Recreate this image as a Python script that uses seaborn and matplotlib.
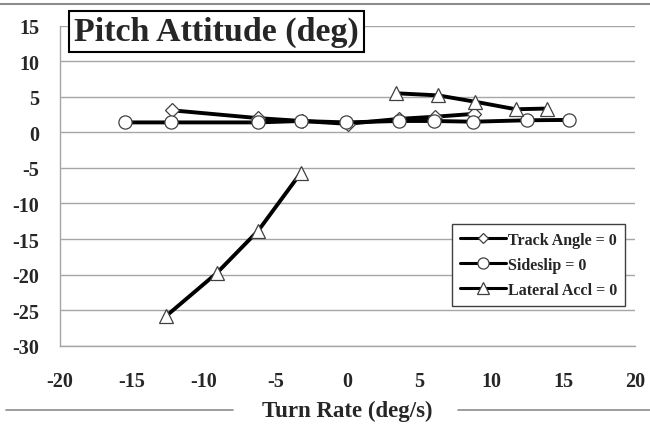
import numpy as np
import pandas as pd
import seaborn as sns
import matplotlib
matplotlib.use("Agg")
import matplotlib.pyplot as plt
from matplotlib.lines import Line2D

# ---- data ----
track_x = [-12.2, -6.2, -3.2, 0.0, 3.6, 6.1, 8.8]
track_y = [3.1, 2.0, 1.6, 1.2, 1.9, 2.2, 2.6]

side_x = [-15.5, -12.25, -6.2, -3.25, -0.1, 3.55, 6.0, 8.75, 12.5, 15.4]
side_y = [1.4, 1.4, 1.4, 1.6, 1.4, 1.6, 1.6, 1.5, 1.7, 1.75]

lat_neg_x = [-12.6, -9.1, -6.2, -3.25]
lat_neg_y = [-25.8, -19.8, -13.8, -5.7]
lat_pos_x = [3.35, 6.3, 8.9, 11.7, 13.9]
lat_pos_y = [5.5, 5.2, 4.3, 3.25, 3.35]

x_ticks = [-20, -15, -10, -5, 0, 5, 10, 15, 20]
y_ticks = [15, 10, 5, 0, -5, -10, -15, -20, -25, -30]

labels = ["Track Angle = 0", "Sideslip = 0", "Lateral Accl = 0"]
title = "Pitch Attitude (deg)"
xlabel = "Turn Rate (deg/s)"

sns.set_style("white")
plt.rcParams["font.family"] = ["Liberation Serif", "DejaVu Serif"]
plt.rcParams["font.weight"] = "bold"

fig = plt.figure(figsize=(6.5, 4.27), dpi=100)
W, H = 650, 427
ax = fig.add_axes([60 / W, 1 - 346.7 / H, (635 - 60) / W, (346.7 - 26.7) / H])

grid_c = "#a6a6a6"
line_kw = dict(color="black", linewidth=2.8, markerfacecolor="white",
               markeredgecolor="#404040", markeredgewidth=0.9)

sns.lineplot(x=track_x, y=track_y, ax=ax, marker="D", markersize=7,
             sort=False, label=labels[0], **line_kw)
sns.lineplot(x=side_x, y=side_y, ax=ax, marker="o", markersize=9.5,
             sort=False, label=labels[1], **line_kw)
sns.lineplot(x=lat_neg_x, y=lat_neg_y, ax=ax, marker="^", markersize=10.5,
             sort=False, label=labels[2], **line_kw)
sns.lineplot(x=lat_pos_x, y=lat_pos_y, ax=ax, marker="^", markersize=10.5,
             sort=False, **line_kw)

ax.set_xlim(-20, 20)
ax.set_ylim(-30, 15)
ax.set_xticks(x_ticks)
ax.set_yticks(y_ticks)
ax.set_xticklabels([str(t) for t in x_ticks])
ax.set_yticklabels([str(t) for t in y_ticks])
ax.yaxis.grid(True, color=grid_c, linewidth=1.0)
ax.xaxis.grid(False)
ax.set_axisbelow(True)
for s in ["top", "right"]:
    ax.spines[s].set_visible(False)
for s in ["left", "bottom"]:
    ax.spines[s].set_color(grid_c)
    ax.spines[s].set_linewidth(1.0)
ax.tick_params(axis="both", which="both", direction="out", length=5,
               color=grid_c, width=1.0, labelsize=14.5)
ax.tick_params(axis="x", pad=13)
ax.tick_params(axis="y", pad=10)
for lab in ax.get_xticklabels() + ax.get_yticklabels():
    lab.set_fontweight("bold")
ax.set_xlabel("")
ax.set_ylabel("")

# legend
handles = [
    Line2D([], [], marker="D", markersize=5.5, **line_kw),
    Line2D([], [], marker="o", markersize=8, **line_kw),
    Line2D([], [], marker="^", markersize=8, **line_kw),
]
for h in handles:
    h.set_linewidth(2.2)
leg = ax.legend(handles, labels, loc="upper left",
                bbox_to_anchor=(452 / W, 1 - 225 / H), bbox_transform=fig.transFigure,
                frameon=True, fancybox=False, framealpha=1.0, edgecolor="#404040",
                handlelength=2.9, handletextpad=0.1, borderpad=0.5, labelspacing=0.55,
                borderaxespad=0, prop={"weight": "bold", "size": 11.5})
leg.get_frame().set_linewidth(1.0)

# title box
fig.text(74 / W, 1 - 32.5 / H, title, ha="left", va="center", fontsize=24.5,
         fontweight="bold",
         bbox=dict(facecolor="white", edgecolor="black", linewidth=1.5,
                   boxstyle="square,pad=0.15"))

# chart border lines (top and bottom, bottom interrupted by the x label)
fig.add_artist(Line2D([0, 1], [1 - 5 / H, 1 - 5 / H], transform=fig.transFigure,
                      color="#8c8c8c", linewidth=1.5))
fig.add_artist(Line2D([6 / W, 233 / W], [1 - 411 / H, 1 - 411 / H],
                      transform=fig.transFigure, color="#8c8c8c", linewidth=1.2))
fig.add_artist(Line2D([458 / W, 1], [1 - 411 / H, 1 - 411 / H],
                      transform=fig.transFigure, color="#8c8c8c", linewidth=1.2))
fig.text(347.5 / W, 1 - 411 / H, xlabel, ha="center", va="center", fontsize=16.5,
         fontweight="bold")

fig.savefig("out.png", dpi=100)
